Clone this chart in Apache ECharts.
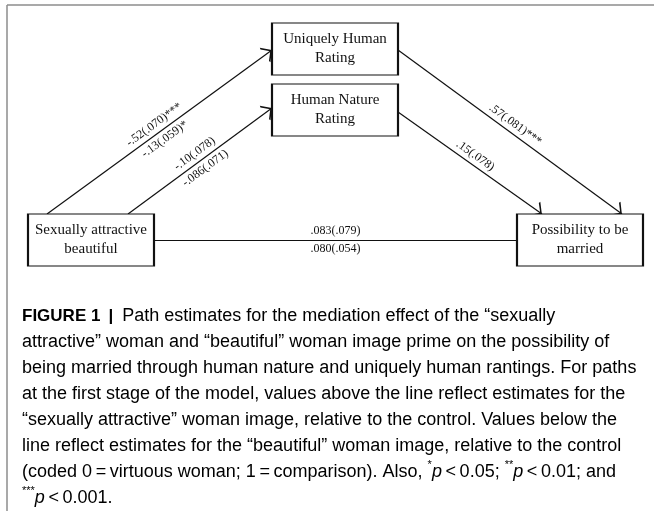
<!DOCTYPE html>
<html>
<head>
<meta charset="utf-8">
<script src="https://cdn.jsdelivr.net/npm/echarts@6/dist/echarts.min.js"></script>
<style>
  html, body { margin: 0; padding: 0; background: #fff; }
  #chart { width: 654px; height: 511px; }
</style>
</head>
<body>
<div id="chart"></div>
<script>
// boxes of the mediation model (centre in figure units)
const nodeNames = ['Sexually attractive\nbeautiful', 'Uniquely Human\nRating', 'Human Nature\nRating', 'Possibility to be\nmarried']
const nodeX = [91, 335, 335, 580]
const nodeY = [240, 49, 110, 240]

// paths: start / end point, estimate above and below the line
const pathStart = [[47, 214], [128, 214], [398, 50], [398, 112], [154, 240]]
const pathEnd = [[272, 50], [272, 108], [622, 214], [542, 214], [517, 240]]
const estAbove = ['-.52(.070)***', '-.10(.078)', '.57(.081)***', '.15(.078)', '.083(.079)']
const estBelow = ['-.13(.059)*', '-.086(.071)', '', '', '.080(.054)']
const hasArrow = [true, true, true, true, false]

const SERIF = 'Liberation Serif'
const SANS = 'Liberation Sans'
const INK = '#111'
// open arrow head, tip at the symbol centre
const ARROW = 'path://M5,-10L5,-10M5,0L10,9L9,9.6L5,2.2L1,9.6L0,9Z'

const idx = pathStart.map((_, i) => i)

function pathLines(ids, arrow, below) {
  const texts = below ? estBelow : estAbove
  return {
    type: 'lines', coordinateSystem: 'cartesian2d', silent: true, z: below ? 1 : 2,
    symbol: arrow ? ['none', ARROW] : ['none', 'none'],
    symbolSize: [8, 18],
    // the copy that carries the lower estimates sits white under the black line
    lineStyle: { color: below ? '#fff' : INK, width: 1.2, opacity: 1 },
    label: {
      show: true, position: below ? 'insideMiddleBottom' : 'insideMiddleTop', distance: 3,
      color: INK, fontFamily: SERIF, fontSize: 12
    },
    data: ids.map((i) => ({
      coords: [pathStart[i], pathEnd[i]],
      label: { formatter: texts[i] }
    }))
  }
}

const caption =
  '{b|FIGURE 1 \u2009|}{n|\u2002Path estimates for the mediation effect of the \u201csexually}\n' +
  '{n|attractive\u201d woman and \u201cbeautiful\u201d woman image prime on the possibility of}\n' +
  '{n|being married through human nature and uniquely human rantings. For paths}\n' +
  '{n|at the first stage of the model, values above the line reflect estimates for the}\n' +
  '{n|\u201csexually attractive\u201d woman image, relative to the control. Values below the}\n' +
  '{n|line reflect estimates for the \u201cbeautiful\u201d woman image, relative to the control}\n' +
  '{n|(coded 0\u2009=\u2009virtuous woman; 1\u2009=\u2009comparison). Also, }{s|*}{i|p}{n|\u2009<\u20090.05; }{s|**}{i|p}{n|\u2009<\u20090.01; and}\n' +
  '{s|***}{i|p}{n|\u2009<\u20090.001.}'

const capBase = { fontFamily: SANS, fontSize: 18, color: '#2a2a2a', lineHeight: 26 }

const chart = echarts.init(document.getElementById('chart'))
chart.setOption({
  animation: false,
  backgroundColor: '#fff',
  grid: { left: 0, right: 0, top: 0, bottom: 0 },
  xAxis: { type: 'value', min: 0, max: 654, show: false },
  yAxis: { type: 'value', min: 0, max: 511, inverse: true, show: false },
  graphic: [
    { type: 'line', shape: { x1: 7, y1: 5, x2: 654, y2: 5 }, style: { stroke: '#8c8c8c', lineWidth: 1.5 } },
    { type: 'line', shape: { x1: 7, y1: 5, x2: 7, y2: 511 }, style: { stroke: '#8c8c8c', lineWidth: 1.5 } },
    {
      type: 'text', left: 22, top: 307,
      style: {
        text: caption,
        rich: {
          n: capBase,
          b: Object.assign({}, capBase, { fontWeight: 'bold', fontSize: 17, color: '#111' }),
          i: Object.assign({}, capBase, { fontStyle: 'italic' }),
          s: Object.assign({}, capBase, { fontSize: 11, lineHeight: 18, verticalAlign: 'top' })
        }
      }
    }
  ],
  series: [
    pathLines(idx.filter((i) => estBelow[i]), false, true),
    pathLines(idx.filter((i) => hasArrow[i]), true, false),
    pathLines(idx.filter((i) => !hasArrow[i]), false, false),
    {
      type: 'scatter', silent: true, z: 3,
      symbol: 'rect', symbolSize: [126, 52],
      itemStyle: { color: '#fff', borderColor: INK, borderWidth: 1.4, opacity: 1 },
      label: {
        show: true, position: 'inside', formatter: '{b}',
        color: INK, fontFamily: SERIF, fontSize: 15, lineHeight: 19
      },
      data: nodeX.map((x, i) => ({ value: [x, nodeY[i]], name: nodeNames[i] }))
    }
  ]
})
</script>
</body>
</html>
